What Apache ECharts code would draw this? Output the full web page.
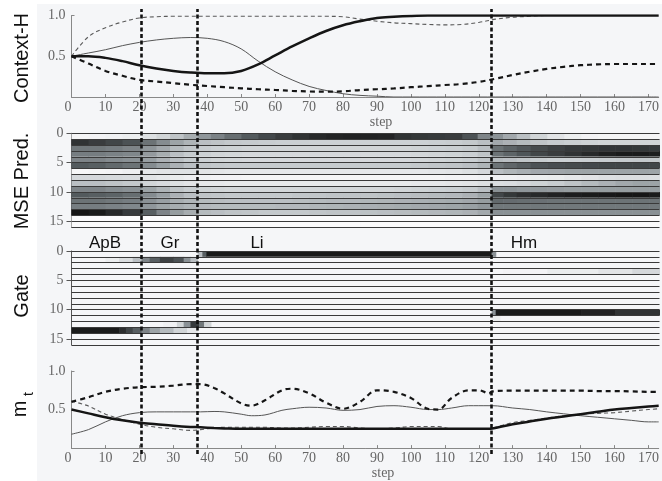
<!DOCTYPE html>
<html><head><meta charset="utf-8">
<script src="https://cdn.jsdelivr.net/npm/echarts@6/dist/echarts.min.js"></script>
<style>html,body{margin:0;padding:0;background:#fff}#c{width:662px;height:481px}</style>
</head><body><div id="c"></div>
<script>
// ---------- Data ----------
const boundaries = [20.6, 37.1, 123.6];
const phaseNames = ['ApB', 'Gr', 'Li', 'Hm'];

const topSteps = [0,5,10,15,20,25,30,35,40,45,50,55,60,65,70,75,80,85,90,95,100,105,110,115,120,125,130,135,140,145,150,155,160,165,170,173];
const ctxThick = [0.5,0.5,0.48,0.44,0.39,0.35,0.32,0.3,0.29,0.29,0.32,0.4,0.51,0.62,0.72,0.81,0.88,0.93,0.97,0.985,0.995,1,1,1,1,1,1,1,1,1,1,1,1,1,1,1];
const ctxThin = [0.5,0.54,0.58,0.63,0.67,0.7,0.72,0.73,0.72,0.68,0.59,0.44,0.31,0.21,0.13,0.08,0.04,0.02,0.01,0,0,0,0,0,0,0,0,0,0,0,0,0,0,0,0,0];
const ctxThinDash = [0.5,0.74,0.85,0.92,0.97,0.985,0.99,0.99,0.99,0.99,0.99,0.99,0.99,0.99,0.99,0.99,0.985,0.955,0.93,0.91,0.9,0.89,0.885,0.89,0.915,0.955,0.978,0.99,1,1,1,1,1,1,1,1];
const ctxThickDash = [0.5,0.41,0.32,0.26,0.21,0.19,0.17,0.15,0.135,0.12,0.107,0.095,0.086,0.075,0.068,0.065,0.07,0.085,0.095,0.105,0.12,0.133,0.147,0.16,0.185,0.225,0.27,0.31,0.345,0.37,0.39,0.4,0.405,0.405,0.405,0.405];

const mtSteps = [0,5,10,15,20,25,30,35,38,42,45,50,53,57,62,65,70,75,80,85,90,95,100,105,108,112,117,120,123,124,130,135,140,145,150,155,160,165,170,173];
const mtThick = [0.5,0.45,0.4,0.36,0.33,0.31,0.29,0.275,0.27,0.26,0.255,0.25,0.25,0.25,0.25,0.25,0.25,0.25,0.25,0.25,0.25,0.25,0.25,0.25,0.25,0.25,0.25,0.25,0.25,0.255,0.31,0.345,0.38,0.41,0.44,0.47,0.5,0.52,0.54,0.55];
const mtThin = [0.18,0.24,0.34,0.42,0.46,0.47,0.47,0.47,0.47,0.475,0.47,0.44,0.42,0.43,0.49,0.51,0.53,0.52,0.49,0.5,0.54,0.55,0.53,0.5,0.5,0.52,0.55,0.55,0.55,0.55,0.52,0.5,0.47,0.445,0.42,0.4,0.38,0.36,0.34,0.34];
const mtThinDash = [0.61,0.545,0.44,0.37,0.31,0.27,0.25,0.23,0.24,0.26,0.27,0.27,0.27,0.27,0.26,0.26,0.27,0.28,0.28,0.26,0.25,0.26,0.28,0.28,0.28,0.25,0.25,0.25,0.25,0.26,0.33,0.36,0.39,0.42,0.44,0.45,0.46,0.48,0.5,0.51];
const mtThickDash = [0.6,0.66,0.73,0.77,0.79,0.795,0.81,0.83,0.83,0.78,0.71,0.58,0.55,0.62,0.75,0.77,0.71,0.59,0.51,0.6,0.75,0.73,0.65,0.51,0.5,0.65,0.75,0.75,0.71,0.735,0.745,0.745,0.745,0.745,0.745,0.74,0.74,0.735,0.73,0.73];

// MSE heatmap: column edges in steps, 16 rows of darkness values (0 white .. 1 black)
const mseColEdges = [0,5,10,15,20.6,25,29,33,37.1,41,45,50,55,60,65,70,75,80,85,90,95,100,105,110,115,119.5,123.6,127,131,135,140,145,150,155,160,165,170,173];
const mseRows = [
 [0.03,0.04,0.05,0.07, 0.14,0.2,0.28,0.38, 0.48,0.56,0.64,0.72,0.79,0.84,0.88,0.92,0.94,0.95,0.95,0.94,0.88,0.86,0.85,0.84,0.75,0.55, 0.5,0.4,0.3,0.2,0.12,0.07,0.04,0.03,0.03,0.03,0.03],
 [0.88,0.84,0.8,0.75, 0.62,0.52,0.42,0.35, 0.3,0.28,0.26,0.25,0.24,0.23,0.23,0.22,0.22,0.22,0.22,0.22,0.22,0.22,0.23,0.24,0.26,0.3, 0.4,0.36,0.32,0.28,0.25,0.23,0.21,0.2,0.2,0.2,0.2],
 [0.6,0.6,0.58,0.55, 0.48,0.4,0.32,0.27, 0.24,0.22,0.21,0.2,0.2,0.2,0.2,0.2,0.2,0.2,0.2,0.2,0.2,0.21,0.22,0.23,0.25,0.3, 0.62,0.68,0.73,0.78,0.82,0.85,0.86,0.87,0.87,0.86,0.85],
 [0.58,0.58,0.56,0.54, 0.46,0.38,0.3,0.25, 0.22,0.2,0.19,0.18,0.18,0.18,0.18,0.18,0.18,0.18,0.18,0.18,0.18,0.19,0.2,0.21,0.23,0.28, 0.62,0.68,0.74,0.8,0.84,0.88,0.92,0.96,0.98,0.98,0.97],
 [0.55,0.55,0.52,0.5, 0.44,0.36,0.3,0.25, 0.22,0.2,0.19,0.18,0.18,0.18,0.18,0.18,0.18,0.18,0.18,0.18,0.18,0.19,0.2,0.21,0.23,0.27, 0.32,0.3,0.27,0.24,0.22,0.22,0.23,0.24,0.25,0.26,0.26],
 [0.72,0.7,0.66,0.62, 0.52,0.44,0.36,0.3, 0.27,0.26,0.25,0.25,0.25,0.25,0.25,0.25,0.25,0.25,0.25,0.25,0.25,0.26,0.27,0.28,0.3,0.35, 0.62,0.67,0.71,0.75,0.77,0.78,0.79,0.8,0.8,0.8,0.8],
 [0.02,0.03,0.04,0.06, 0.1,0.12,0.13,0.13, 0.12,0.11,0.1,0.1,0.1,0.1,0.1,0.1,0.1,0.1,0.1,0.1,0.1,0.1,0.11,0.12,0.14,0.18, 0.3,0.34,0.37,0.4,0.41,0.42,0.42,0.42,0.42,0.42,0.42],
 [0.18,0.18,0.17,0.16, 0.12,0.1,0.08,0.06, 0.05,0.04,0.04,0.03,0.03,0.03,0.03,0.03,0.03,0.03,0.03,0.03,0.03,0.03,0.03,0.04,0.04,0.05, 0.05,0.05,0.06,0.07,0.08,0.1,0.12,0.14,0.15,0.15,0.15],
 [0.3,0.3,0.28,0.26, 0.2,0.17,0.14,0.12, 0.1,0.1,0.09,0.09,0.09,0.09,0.09,0.09,0.09,0.09,0.09,0.09,0.09,0.1,0.1,0.11,0.12,0.14, 0.15,0.16,0.18,0.21,0.24,0.28,0.32,0.36,0.4,0.42,0.42],
 [0.55,0.55,0.52,0.5, 0.42,0.35,0.28,0.24, 0.21,0.2,0.19,0.19,0.19,0.19,0.19,0.19,0.19,0.19,0.19,0.19,0.2,0.21,0.22,0.23,0.25,0.3, 0.5,0.5,0.48,0.47,0.46,0.45,0.45,0.45,0.45,0.45,0.45],
 [0.72,0.7,0.68,0.64, 0.52,0.44,0.36,0.3, 0.28,0.27,0.26,0.26,0.26,0.26,0.27,0.27,0.28,0.28,0.28,0.29,0.3,0.31,0.32,0.33,0.36,0.42, 0.8,0.86,0.9,0.92,0.95,0.97,0.98,0.99,1,1,0.98],
 [0.62,0.62,0.6,0.58, 0.5,0.44,0.38,0.34, 0.32,0.31,0.3,0.3,0.3,0.3,0.31,0.32,0.33,0.33,0.34,0.35,0.36,0.37,0.38,0.39,0.41,0.45, 0.66,0.65,0.64,0.63,0.62,0.62,0.62,0.62,0.62,0.62,0.62],
 [0.58,0.58,0.56,0.54, 0.48,0.42,0.38,0.35, 0.33,0.32,0.32,0.32,0.32,0.33,0.33,0.34,0.35,0.36,0.37,0.38,0.39,0.4,0.41,0.42,0.44,0.48, 0.6,0.6,0.6,0.6,0.6,0.6,0.6,0.6,0.6,0.6,0.6],
 [1,0.98,0.92,0.85, 0.7,0.55,0.45,0.38, 0.32,0.3,0.28,0.27,0.26,0.26,0.26,0.27,0.28,0.28,0.29,0.3,0.31,0.32,0.33,0.34,0.36,0.4, 0.5,0.5,0.5,0.5,0.5,0.5,0.5,0.5,0.5,0.5,0.5],
 [0,0,0,0, 0,0,0,0, 0,0,0,0,0,0,0,0,0,0,0,0,0,0,0,0,0,0, 0,0,0,0,0,0,0,0,0,0,0],
 [0,0,0,0, 0,0,0,0, 0,0,0,0,0,0,0,0,0,0,0,0,0,0,0,0,0,0, 0,0,0,0,0,0,0,0,0,0,0]
];

// Gate heatmap: [fromStep, toStep, row, darkness] (cells not listed are white)
const gateCells = [
 [37.1,38.5,0,0.3],[38.5,39.7,0,0.7],[39.7,123.6,0,0.98],[123.6,124.8,0,0.5],
 [5,10,1,0.03],[10,14,1,0.07],[14,18,1,0.15],[18,20.6,1,0.3],[20.6,23,1,0.55],[23,26,1,0.7],[26,30,1,0.82],[30,33,1,0.75],[33,35,1,0.5],[35,37.1,1,0.3],
 [127,140,3,0.04],[140,155,3,0.08],[155,165,3,0.12],[165,173,3,0.18],
 [123.6,124.8,10,0.5],[124.8,150,10,0.98],[150,160,10,0.95],[160,173,10,0.88],
 [123.6,126,11,0.08],
 [27,31,12,0.05],[31,33,12,0.2],[33,35,12,0.5],[35,37.5,12,0.85],[37.5,39,12,0.6],[39,41,12,0.2],
 [0,14,13,0.98],[14,16,13,0.9],[16,18,13,0.8],[18,20.6,13,0.7],[20.6,23,13,0.55],[23,26,13,0.42],[26,30,13,0.32],[30,34,13,0.2],[34,37.1,13,0.1]
];

// ---------- Build ----------
const mseCells = [];
mseRows.forEach((row, r) => row.forEach((v, c) => mseCells.push([mseColEdges[c], mseColEdges[c + 1], r, v])));

const pair = (xs, ys) => xs.map((x, i) => [x, ys[i]]);
const TF = 'Liberation Serif';
const tickLabel = { fontFamily: TF, fontSize: 14, color: '#666' };
const X0 = 71.5, W = 588, XMAX = 173;

function renderCell(params, api) {
  const p0 = api.coord([api.value(0), api.value(2)]);
  const p1 = api.coord([api.value(1), api.value(2) + 1]);
  return {
    type: 'rect',
    shape: { x: p0[0], y: Math.min(p0[1], p1[1]), width: p1[0] - p0[0] + 0.6, height: Math.abs(p1[1] - p0[1]) },
    style: { fill: api.visual('color') }
  };
}

function lineAxisX(gi, name, nameGap, pad) {
  return {
    type: 'value', gridIndex: gi, min: 0, max: XMAX, interval: 10,
    axisLine: { lineStyle: { color: '#888', width: 1 } },
    axisTick: { inside: true, length: 3, lineStyle: { color: '#888' } },
    axisLabel: Object.assign({ margin: 3, showMaxLabel: false, alignMinLabel: 'right' }, tickLabel),
    splitLine: { show: false },
    name: name, nameLocation: 'middle', nameGap: nameGap,
    nameTextStyle: { fontFamily: TF, fontSize: 14, color: '#666', padding: [0, 0, 0, pad] }
  };
}
function lineAxisY(gi) {
  return {
    type: 'value', gridIndex: gi, min: 0, max: 1, interval: 0.5,
    axisLine: { show: true, lineStyle: { color: '#888' } },
    axisTick: { show: true, inside: true, length: 3, lineStyle: { color: '#888' } },
    axisLabel: Object.assign({ margin: 6, showMinLabel: false, formatter: v => v.toFixed(1) }, tickLabel),
    splitLine: { show: false }
  };
}
function heatAxisX(gi) {
  return { type: 'value', gridIndex: gi, min: 0, max: XMAX, show: false };
}
function heatAxisY(gi) {
  return {
    type: 'value', gridIndex: gi, min: 0, max: 16, interval: 5, inverse: true,
    axisLine: { show: true, lineStyle: { color: '#555' } },
    axisTick: { show: true, length: 5, lineStyle: { color: '#555' } },
    axisLabel: Object.assign({ margin: 8, showMaxLabel: false }, tickLabel),
    splitLine: { show: false }
  };
}
function heatRowLines(gi) {
  return {
    type: 'value', gridIndex: gi, min: 0, max: 16, interval: 1, inverse: true, z: 5,
    axisLine: { show: false }, axisTick: { show: false }, axisLabel: { show: false },
    splitLine: { show: true, lineStyle: { color: '#3a3a3a', width: 1.2 } }
  };
}
function mkLine(gi, xs, ys, kind) {
  const styles = {
    thick: { color: '#151515', width: 2.5, type: 'solid' },
    thin: { color: '#555', width: 1, type: 'solid' },
    thinDash: { color: '#5a5a5a', width: 1.1, type: [4, 3] },
    thickDash: { color: '#151515', width: 2.2, type: [5, 4] }
  };
  return {
    type: 'line', xAxisIndex: gi === 0 ? 0 : 3, yAxisIndex: gi === 0 ? 0 : 5,
    data: pair(xs, ys), symbol: 'none', smooth: 0.35, lineStyle: styles[kind],
    silent: true, animation: false, z: kind.indexOf('thick') === 0 ? 4 : 3
  };
}

const phaseLabelPos = [[105, 243], [170, 243], [257, 243], [524, 243]];

const option = {
  backgroundColor: '#ffffff',
  animation: false,
  grid: [
    { left: X0, top: 15.5, width: W, height: 81.5 },
    { left: X0, top: 133.3, width: W, height: 93.9 },
    { left: X0, top: 251, width: W, height: 93.9 },
    { left: X0, top: 371, width: W, height: 82 },
    { left: X0, top: 9, width: W, height: 445 }
  ],
  xAxis: [
    lineAxisX(0, 'step', 16, 32),
    heatAxisX(1),
    heatAxisX(2),
    lineAxisX(3, 'step', 15, 36),
    { type: 'value', gridIndex: 4, min: 0, max: XMAX, show: false }
  ],
  yAxis: [
    lineAxisY(0),
    heatAxisY(1), heatRowLines(1),
    heatAxisY(2), heatRowLines(2),
    lineAxisY(3),
    { type: 'value', gridIndex: 4, min: 0, max: 1, show: false }
  ],
  visualMap: {
    type: 'continuous', show: false, min: 0, max: 1, dimension: 3, seriesIndex: [4, 5],
    inRange: { color: ['#fbfbfc', '#c6cbce', '#8a9195', '#4c5255', '#161616'] }
  },
  series: [
    mkLine(0, topSteps, ctxThin, 'thin'),
    mkLine(0, topSteps, ctxThinDash, 'thinDash'),
    mkLine(0, topSteps, ctxThickDash, 'thickDash'),
    mkLine(0, topSteps, ctxThick, 'thick'),
    { type: 'custom', xAxisIndex: 1, yAxisIndex: 1, renderItem: renderCell, data: mseCells,
      encode: { x: [0, 1], y: 2 }, clip: true, silent: true, animation: false },
    { type: 'custom', xAxisIndex: 2, yAxisIndex: 3, renderItem: renderCell, data: gateCells,
      encode: { x: [0, 1], y: 2 }, clip: true, silent: true, animation: false },
    mkLine(3, mtSteps, mtThin, 'thin'),
    mkLine(3, mtSteps, mtThinDash, 'thinDash'),
    mkLine(3, mtSteps, mtThickDash, 'thickDash'),
    mkLine(3, mtSteps, mtThick, 'thick'),
    { type: 'line', xAxisIndex: 4, yAxisIndex: 6, data: [], z: 10, silent: true, animation: false,
      markLine: { silent: true, symbol: 'none', label: { show: false }, animation: false,
        lineStyle: { color: '#111', width: 2.6, type: [4, 2.5] },
        data: boundaries.map(b => ({ xAxis: b })) } }
  ],
  graphic: [
    { type: 'rect', z: -10, silent: true, shape: { x: 37, y: 4, width: 625, height: 477 }, style: { fill: '#f5f6f8' } },
    { type: 'text', x: 22, y: 58, rotation: Math.PI / 2, silent: true,
      style: { text: 'Context-H', font: '20px "Liberation Sans"', fill: '#111', align: 'center', verticalAlign: 'middle', textAlign: 'center', textVerticalAlign: 'middle' } },
    { type: 'text', x: 22, y: 181, rotation: Math.PI / 2, silent: true,
      style: { text: 'MSE Pred.', font: '20px "Liberation Sans"', fill: '#111', align: 'center', verticalAlign: 'middle', textAlign: 'center', textVerticalAlign: 'middle' } },
    { type: 'text', x: 22, y: 296, rotation: Math.PI / 2, silent: true,
      style: { text: 'Gate', font: '20px "Liberation Sans"', fill: '#111', align: 'center', verticalAlign: 'middle', textAlign: 'center', textVerticalAlign: 'middle' } },
    { type: 'text', x: 20, y: 409, rotation: Math.PI / 2, silent: true,
      style: { text: 'm', font: '20px "Liberation Sans"', fill: '#111', align: 'center', verticalAlign: 'middle', textAlign: 'center', textVerticalAlign: 'middle' } },
    { type: 'text', x: 29, y: 394, rotation: Math.PI / 2, silent: true,
      style: { text: 't', font: '14px "Liberation Sans"', fill: '#111', align: 'center', verticalAlign: 'middle', textAlign: 'center', textVerticalAlign: 'middle' } }
  ].concat(phaseNames.map((n, i) => ({
    type: 'text', x: phaseLabelPos[i][0], y: phaseLabelPos[i][1], silent: true, z: 20,
    style: { text: n, font: '17px "Liberation Sans"', fill: '#111', align: 'center', verticalAlign: 'middle', textAlign: 'center', textVerticalAlign: 'middle' }
  })))
};

const chart = echarts.init(document.getElementById('c'), null, { renderer: 'canvas' });
chart.setOption(option);
</script></body></html>
